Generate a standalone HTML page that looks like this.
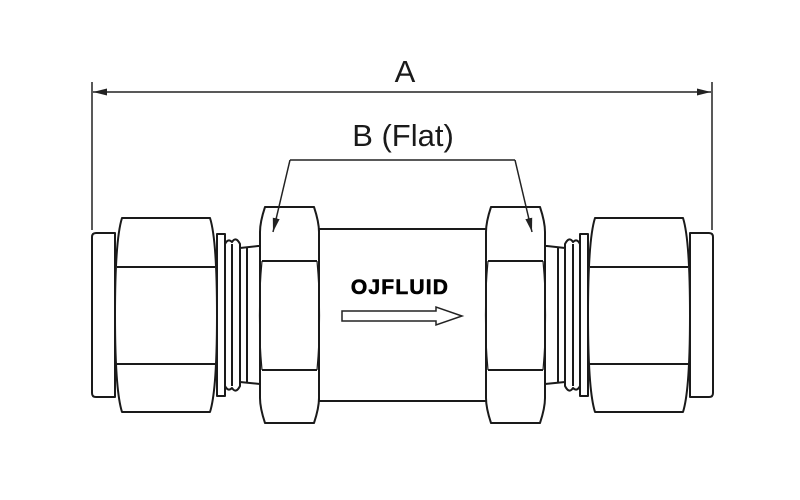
<!DOCTYPE html>
<html><head><meta charset="utf-8"><style>html,body{margin:0;padding:0;background:#fff}svg{display:block}</style></head>
<body>
<svg width="800" height="500" viewBox="0 0 800 500" xmlns="http://www.w3.org/2000/svg">
<defs>
<marker id="ar" markerWidth="14" markerHeight="8" refX="14" refY="4" orient="auto" markerUnits="userSpaceOnUse"><path d="M0,0.5 L14,4 L0,7.5 Z" fill="#222"/></marker>
<g id="half" fill="#fff" stroke="#1a1a1a" stroke-width="2" stroke-linejoin="round">
  <path d="M96,233 L115,233 L115,397 L96,397 Q92,397 92,393 L92,237 Q92,233 96,233 Z"/>
  <path d="M122,218 L210,218 Q217,240 217,315 Q217,390 210,412 L122,412 Q115,390 115,315 Q115,240 122,218 Z"/>
  <path d="M117,267 L215,267 M117,364 L215,364" fill="none"/>
  <rect x="217" y="234" width="8" height="162"/>
  <path d="M225,244 Q228,238 232,242 Q236,236 240,244 L240,386 Q236,394 232,388 Q228,392 225,386 Z"/>
  <path d="M240,248 L258,246 L260,246 L260,384 L240,382 Z"/>
  <path d="M232,244 L232,386 M247,248 L247,382" fill="none"/>
  <path d="M265,207 L314,207 Q319,222 319,232 L319,398 Q319,408 314,423 L265,423 Q260,408 260,398 L260,232 Q260,222 265,207 Z"/>
  <path d="M262,261 L317,261 M262,370 L317,370" fill="none"/>
  <path d="M262,261 Q257,315 262,370 M317,261 Q322,315 317,370" fill="none" stroke-width="1.2"/>
</g>
</defs>
<rect x="319" y="229" width="168" height="172" fill="#fff" stroke="#1a1a1a" stroke-width="2"/>
<use href="#half"/>
<use href="#half" transform="translate(805,0) scale(-1,1)"/>
<g stroke="#222" stroke-width="1.5" fill="none">
  <line x1="92" y1="82" x2="92" y2="230"/>
  <line x1="712" y1="82" x2="712" y2="230"/>
  <line x1="400" y1="92" x2="93" y2="92" marker-end="url(#ar)"/>
  <line x1="400" y1="92" x2="711" y2="92" marker-end="url(#ar)"/>
  <polyline points="290,160 515,160"/>
  <line x1="290" y1="160" x2="273" y2="232" marker-end="url(#ar)"/>
  <line x1="515" y1="160" x2="532" y2="232" marker-end="url(#ar)"/>
</g>
<text x="405" y="82" font-family="Liberation Sans, sans-serif" font-size="31" text-anchor="middle" fill="#1a1a1a">A</text>
<text x="403" y="146" font-family="Liberation Sans, sans-serif" font-size="31" text-anchor="middle" fill="#1a1a1a">B (Flat)</text>
<text x="400" y="294" font-family="Liberation Sans, sans-serif" font-size="21" font-weight="bold" text-anchor="middle" fill="#000" stroke="#000" stroke-width="0.6" letter-spacing="1.2">OJFLUID</text>
<path d="M342,311 L436,311 L436,307 L462,316 L436,325 L436,321 L342,321 Z" fill="#fff" stroke="#222" stroke-width="1.5"/>
</svg>
</body></html>
